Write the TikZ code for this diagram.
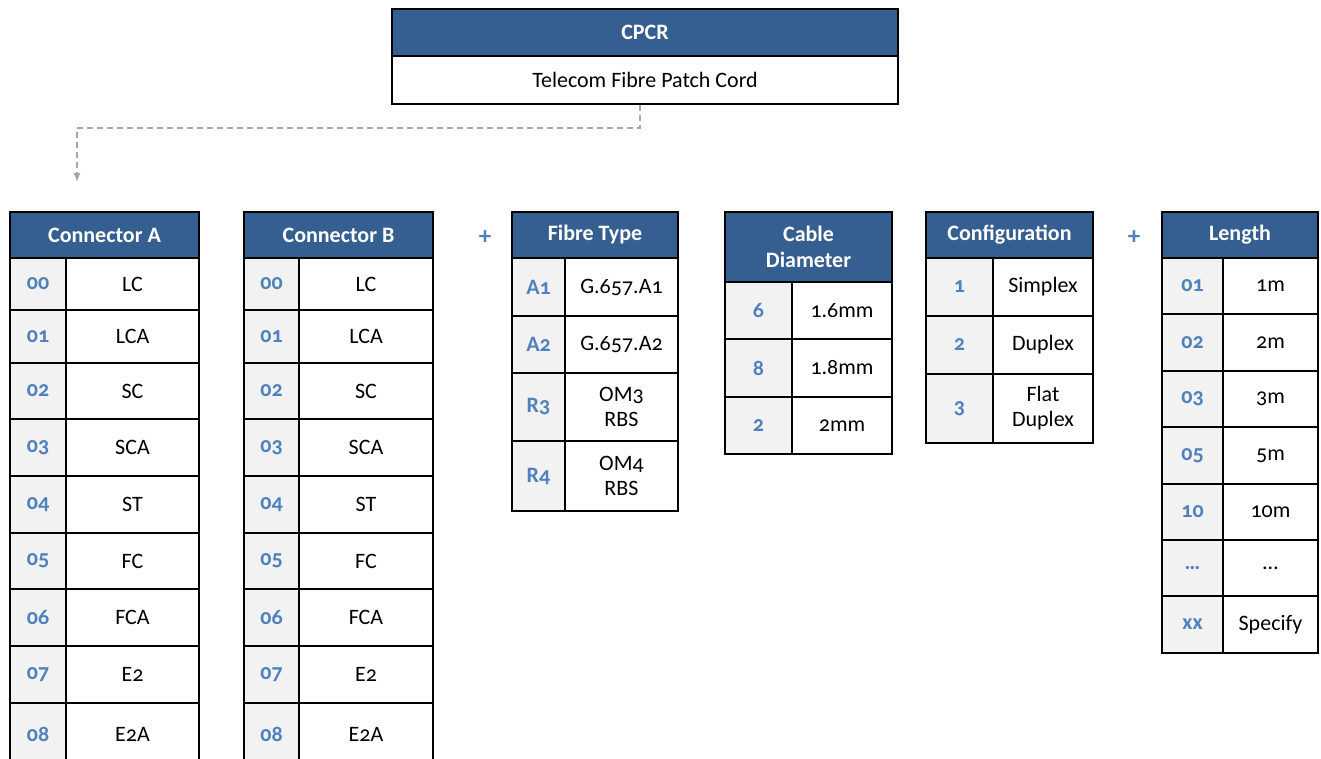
\documentclass[tikz,border=0pt]{standalone}
\usepackage{fontspec}
\setmainfont{Carlito}[Numbers=OldStyle]
\usetikzlibrary{arrows}
\usetikzlibrary{calc}
\definecolor{hdblue}{RGB}{54,95,145}
\definecolor{codeblue}{RGB}{79,129,189}
\definecolor{codegray}{RGB}{242,242,242}
\definecolor{linkgray}{RGB}{166,166,166}

\begin{document}
\begin{tikzpicture}[x=1pt,y=-1pt]
                    \tikzset{cell/.style={draw,line width=2pt,rectangle,inner sep=0pt,align=center,font=\fontsize{22}{25}\selectfont},
                             head/.style={cell,fill=hdblue,text=white,font=\fontsize{22}{26}\selectfont\bfseries},
                             code/.style={cell,fill=codegray,text=codeblue,font=\fontsize{22}{25}\selectfont\bfseries},
                             item/.style={cell,fill=white},
                             plus/.style={text=codeblue,font=\fontsize{25}{25}\selectfont\bfseries},
                             link/.style={linkgray,line width=2pt,dash pattern=on 6pt off 4pt,-latex}}
                    \clip (0,0) rectangle (1321,758);
                    \draw (645,32.5) node[head,minimum width=506pt,minimum height=47pt,name=cpcr] {CPCR};
                    \draw (645,80) node[item,minimum width=506pt,minimum height=48pt,name=cpcrtext] {Telecom Fibre Patch Cord};
                    \coordinate (drop) at (77,182);
                    \draw[link] ([xshift=-5pt]cpcrtext.south) -- ++(0,23) -| (drop);
                    \node[head,minimum width=189pt,minimum height=46pt] (conA) at (104.5,235) {Connector A};
                    \node[head,minimum width=189pt,minimum height=46pt] (conB) at (338.5,235) {Connector B};
                    \foreach \c/\v/\t/\b [count=\i] in {00/LC/258/310,01/LCA/310/363,02/SC/363/419,03/SCA/419/476,04/ST/476/533,05/FC/533/589,06/FCA/589/646,07/E2/646/703,08/E2A/703/765} {
                        \node[code,minimum width=56pt,minimum height={(\b-\t)*1pt}] (conAc\i) at (38,{(\t+\b)/2}) {\c};
                        \node[item,minimum width=133pt,minimum height={(\b-\t)*1pt}] (conAv\i) at (132.5,{(\t+\b)/2}) {\v};
                        \node[code,minimum width=55pt,minimum height={(\b-\t)*1pt}] (conBc\i) at (271.5,{(\t+\b)/2}) {\c};
                        \node[item,minimum width=134pt,minimum height={(\b-\t)*1pt}] (conBv\i) at (366,{(\t+\b)/2}) {\v};
                    }
                    \node[plus] (plusA) at (485,238) {+};
                    \node[head,minimum width=166pt,minimum height=46pt] (fibre) at (595,235) {Fibre Type};
                    \foreach \c/\v/\t/\b [count=\i] in {A1/G.657.A1/258/316,A2/G.657.A2/316/373,R3/{OM3\\RBS}/373/441,R4/{OM4\\RBS}/441/511} {
                        \node[code,minimum width=53pt,minimum height={(\b-\t)*1pt}] (fibrec\i) at (538.5,{(\t+\b)/2}) {\c};
                        \node[item,minimum width=113pt,minimum height={(\b-\t)*1pt}] (fibrev\i) at (621.5,{(\t+\b)/2}) {\v};
                    }
                    \node[head,minimum width=167pt,minimum height=70pt] (cable) at (808.5,247) {Cable\\Diameter};
                    \foreach \c/\v/\t/\b [count=\i] in {6/1.6mm/282/339,8/1.8mm/339/397,2/2mm/397/454} {
                        \node[code,minimum width=67pt,minimum height={(\b-\t)*1pt}] (cablec\i) at (758.5,{(\t+\b)/2}) {\c};
                        \node[item,minimum width=100pt,minimum height={(\b-\t)*1pt}] (cablev\i) at (842,{(\t+\b)/2}) {\v};
                    }
                    \node[head,minimum width=167pt,minimum height=46pt] (config) at (1009.5,235) {Configuration};
                    \foreach \c/\v/\t/\b [count=\i] in {1/Simplex/258/316,2/Duplex/316/374,3/{Flat\\Duplex}/374/443} {
                        \node[code,minimum width=67pt,minimum height={(\b-\t)*1pt}] (configc\i) at (959.5,{(\t+\b)/2}) {\c};
                        \node[item,minimum width=100pt,minimum height={(\b-\t)*1pt}] (configv\i) at (1043,{(\t+\b)/2}) {\v};
                    }
                    \node[plus] (plusB) at (1134,238) {+};
                    \node[head,minimum width=156pt,minimum height=46pt] (length) at (1240,235) {Length};
                    \foreach \c/\v/\t/\b [count=\i] in {01/1m/258/314,02/2m/314/371,03/3m/371/427,05/5m/427/484,10/10m/484/540,\dots/\dots/540/596,xx/Specify/596/653} {
                        \node[code,minimum width=61pt,minimum height={(\b-\t)*1pt}] (lengthc\i) at (1192.5,{(\t+\b)/2}) {\c};
                        \node[item,minimum width=95pt,minimum height={(\b-\t)*1pt}] (lengthv\i) at (1270.5,{(\t+\b)/2}) {\v};
                    }
                \end{tikzpicture}
\end{document}
